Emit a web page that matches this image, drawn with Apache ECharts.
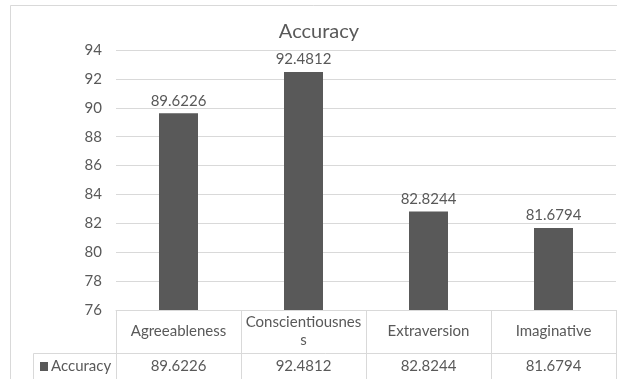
<!DOCTYPE html>
<html>
<head>
<meta charset="utf-8">
<script src="https://cdn.jsdelivr.net/npm/echarts@6/dist/echarts.min.js"></script>
<style>
  html, body { margin: 0; padding: 0; background: #ffffff; }
  #chart { width: 617px; height: 379px; }
</style>
</head>
<body>
<div id="chart"></div>
<script>
// Accuracy per personality trait
const categories = ['Agreeableness', 'Conscientiousness', 'Extraversion', 'Imaginative'];
const accuracy = [89.6226, 92.4812, 82.8244, 81.6794];
const seriesName = 'Accuracy';
const yTicks = { min: 76, max: 94, step: 2 };

const FONT = 'Lato';
const TEXT = '#595959';
const LINE = '#d9d9d9';
const FS = 15;

const chart = echarts.init(document.getElementById('chart'), null, { renderer: 'canvas' });

const option = {
  backgroundColor: '#ffffff',
  animation: false,
  textStyle: { fontFamily: FONT, color: TEXT },
  title: {
    text: seriesName,
    left: 314,
    top: 17,
    textAlign: 'center',
    textStyle: { fontFamily: FONT, fontSize: 20, fontWeight: 'normal', color: TEXT }
  },
  grid: { left: 116, right: 1, top: 50, bottom: 69, containLabel: false },
  xAxis: [
    {
      // category row of the data table
      type: 'category',
      data: categories,
      position: 'bottom',
      axisLine: { show: true, lineStyle: { color: LINE, width: 1 } },
      axisTick: { show: true, alignWithLabel: false, length: 69, lineStyle: { color: LINE, width: 1 } },
      axisLabel: {
        show: true,
        interval: 0,
        margin: 21,
        width: 118,
        overflow: 'breakAll',
        lineHeight: 18,
        fontFamily: FONT,
        fontSize: FS,
        color: TEXT,
        verticalAlign: 'middle'
      },
      splitLine: { show: false }
    },
    {
      // value row of the data table
      type: 'category',
      data: accuracy.map(v => String(v)),
      position: 'bottom',
      offset: 43,
      axisLine: { show: false },
      axisTick: { show: false },
      axisLabel: {
        show: true,
        interval: 0,
        margin: 13,
        fontFamily: FONT,
        fontSize: FS,
        color: TEXT,
        verticalAlign: 'middle'
      }
    }
  ],
  yAxis: {
    type: 'value',
    min: yTicks.min,
    max: yTicks.max,
    interval: yTicks.step,
    axisLine: { show: false },
    axisTick: { show: false },
    axisLabel: { margin: 14, fontFamily: FONT, fontSize: FS, color: TEXT },
    splitLine: { show: true, lineStyle: { color: LINE, width: 1 } }
  },
  series: [
    {
      name: seriesName,
      type: 'bar',
      xAxisIndex: 0,
      data: accuracy,
      barWidth: 39,
      itemStyle: { color: '#595959' },
      label: {
        show: true,
        position: 'top',
        distance: 5,
        fontFamily: FONT,
        fontSize: FS,
        color: TEXT,
        formatter: p => String(p.value)
      }
    }
  ],
  graphic: [
    // outer chart frame
    { type: 'line', shape: { x1: 10.5, y1: 5.5, x2: 617, y2: 5.5 }, style: { stroke: LINE, lineWidth: 1 } },
    { type: 'line', shape: { x1: 10.5, y1: 5.5, x2: 10.5, y2: 379 }, style: { stroke: LINE, lineWidth: 1 } },
    // data table: row divider and legend cell
    { type: 'line', shape: { x1: 33.5, y1: 353.5, x2: 617, y2: 353.5 }, style: { stroke: LINE, lineWidth: 1 } },
    { type: 'line', shape: { x1: 33.5, y1: 353.5, x2: 33.5, y2: 379 }, style: { stroke: LINE, lineWidth: 1 } },
    { type: 'rect', shape: { x: 40, y: 362, width: 8, height: 9 }, style: { fill: '#595959' } },
    { type: 'text', x: 51, y: 366.5, style: { text: seriesName, fontFamily: FONT, fontSize: FS, fill: TEXT, verticalAlign: 'middle' } }
  ]
};

chart.setOption(option);
</script>
</body>
</html>
